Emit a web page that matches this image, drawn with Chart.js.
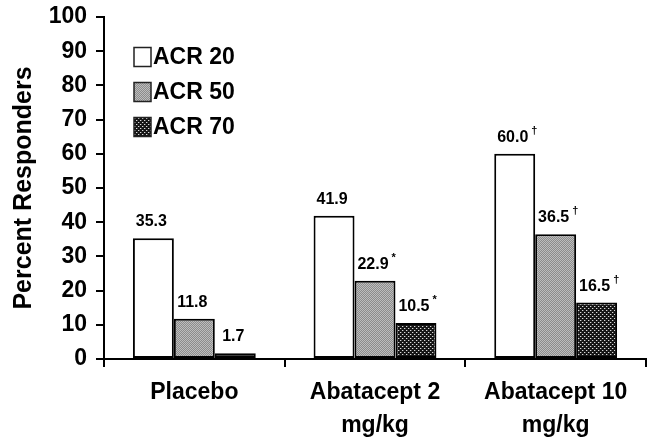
<!DOCTYPE html>
<html>
<head>
<meta charset="utf-8">
<script src="https://cdn.jsdelivr.net/npm/chart.js@4/dist/chart.umd.min.js"></script>
<style>
  html, body { margin: 0; padding: 0; background: #fff; }
  #wrap { width: 649px; height: 445px; }
</style>
</head>
<body>
<div id="wrap"><canvas id="c" width="649" height="445"></canvas></div>
<script>
// ---- data ----
const categories = [["Placebo"], ["Abatacept 2", "mg/kg"], ["Abatacept 10", "mg/kg"]];
const seriesNames = ["ACR 20", "ACR 50", "ACR 70"];
const acr20 = [35.3, 41.9, 60.0];
const acr50 = [11.8, 22.9, 36.5];
const acr70 = [1.7, 10.5, 16.5];
const acr20Marks = ["", "", "\u2020"];
const acr50Marks = ["", "*", "\u2020"];
const acr70Marks = ["", "*", "\u2020"];
const yTicks = [0, 10, 20, 30, 40, 50, 60, 70, 80, 90, 100];

// ---- patterns ----
function makePattern(size, bg, dots) {
  const t = document.createElement('canvas');
  t.width = size; t.height = size;
  const g = t.getContext('2d');
  g.fillStyle = bg; g.fillRect(0, 0, size, size);
  dots.forEach(d => { g.fillStyle = d[2]; g.fillRect(d[0], d[1], 1, 1); });
  return document.createElement('canvas').getContext('2d').createPattern(t, 'repeat');
}
const grayPattern = makePattern(2, '#8c8c8c', [[0, 0, '#bdbdbd'], [1, 1, '#bdbdbd']]);
const darkPattern = makePattern(4, '#151515', [[0, 0, '#d8d8d8'], [2, 2, '#d8d8d8'], [1, 0, '#555'], [3, 2, '#555']]);
const fills = ['#ffffff', grayPattern, darkPattern];
const allMarks = [acr20Marks, acr50Marks, acr70Marks];

const FONT = '"Liberation Sans", Arial, Helvetica, sans-serif';

const legendPlugin = {
  id: 'insideLegend',
  afterDraw(chart) {
    const ctx = chart.ctx;
    const top = chart.chartArea.top;
    ctx.save();
    chart.data.datasets.forEach((ds, i) => {
      const cy = top + 40 + i * 35;
      ctx.fillStyle = ds.backgroundColor;
      ctx.fillRect(134, cy - 9.5, 17, 19);
      ctx.lineWidth = 1.5;
      ctx.strokeStyle = '#222';
      ctx.strokeRect(134, cy - 9.5, 17, 19);
      ctx.fillStyle = '#000';
      ctx.font = 'bold 23px ' + FONT;
      ctx.textAlign = 'left';
      ctx.textBaseline = 'middle';
      ctx.fillText(ds.label, 153, cy + 1);
    });
    ctx.restore();
  }
};

const valueLabelPlugin = {
  id: 'valueLabels',
  afterDatasetsDraw(chart) {
    const ctx = chart.ctx;
    ctx.save();
    ctx.fillStyle = '#000';
    chart.data.datasets.forEach((ds, i) => {
      const meta = chart.getDatasetMeta(i);
      meta.data.forEach((bar, j) => {
        const txt = ds.data[j].toFixed(1);
        ctx.font = 'bold 16px ' + FONT;
        ctx.textAlign = 'center';
        ctx.textBaseline = 'alphabetic';
        const cx = bar.x - 2;
        const by = bar.y - 12;
        ctx.fillText(txt, cx, by);
        const mark = allMarks[i][j];
        if (mark) {
          const w = ctx.measureText(txt).width;
          ctx.font = 'bold 11px ' + FONT;
          ctx.textAlign = 'left';
          ctx.fillText(mark, cx + w / 2 + 3, by - 8);
        }
      });
    });
    ctx.restore();
  }
};

const data = {
  labels: categories,
  datasets: [
    { label: seriesNames[0], data: acr20, backgroundColor: fills[0] },
    { label: seriesNames[1], data: acr50, backgroundColor: fills[1] },
    { label: seriesNames[2], data: acr70, backgroundColor: fills[2] }
  ].map(d => Object.assign(d, {
    borderColor: '#000', borderWidth: 2, borderSkipped: false,
    barPercentage: 1.0, categoryPercentage: 0.68
  }))
};

new Chart(document.getElementById('c'), {
  type: 'bar',
  data,
  options: {
    responsive: false,
    animation: false,
    devicePixelRatio: 1,
    layout: { padding: { top: 17, right: 3, left: 0, bottom: 0 } },
    plugins: { legend: { display: false }, tooltip: { enabled: false } },
    scales: {
      x: {
        grid: { offset: true, drawOnChartArea: false, drawTicks: true, tickLength: 8, color: '#000', lineWidth: 2 },
        border: { display: true, color: '#000', width: 2 },
        ticks: { color: '#000', font: { family: FONT, size: 23, weight: 'bold', lineHeight: 1.45 }, padding: 9, maxRotation: 0, autoSkip: false },
        afterFit(scale) { scale.height = 86; scale.paddingLeft = 0; scale.paddingRight = 0; }
      },
      y: {
        min: 0, max: 100,
        afterBuildTicks(scale) { scale.ticks = yTicks.map(v => ({ value: v })); },
        grid: { drawOnChartArea: false, drawTicks: true, tickLength: 8, color: '#000', lineWidth: 2 },
        border: { display: true, color: '#000', width: 2 },
        ticks: { color: '#000', font: { family: FONT, size: 23, weight: 'bold' }, padding: 9 },
        title: { display: true, text: 'Percent Responders', color: '#000', font: { family: FONT, size: 25, weight: 'bold' }, padding: { top: 9, bottom: 0 } },
        afterFit(scale) { scale.width = 104; scale.paddingTop = 0; scale.paddingBottom = 0; }
      }
    }
  },
  plugins: [legendPlugin, valueLabelPlugin]
});
</script>
</body>
</html>
